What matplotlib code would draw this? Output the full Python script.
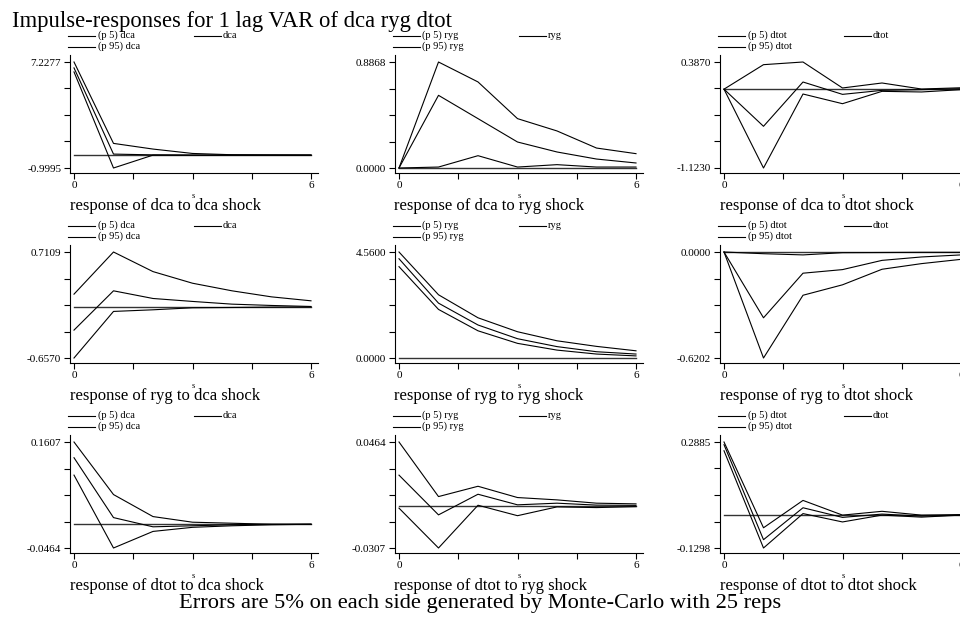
import numpy as np
import matplotlib
matplotlib.use("Agg")
import matplotlib.pyplot as plt

plt.rcParams['font.family'] = ['Liberation Serif', 'DejaVu Serif']

# horizon steps
steps = [0, 1, 2, 3, 4, 5, 6]
variables = ["dca", "ryg", "dtot"]

# response of dca to dca shock
dca_dca_p5 = [7.2277, 0.91, 0.47, 0.13, 0.03, 0.01, 0.0]
dca_dca_irf = [6.77, 0.08, 0.02, 0.005, 0.0, 0.0, 0.0]
dca_dca_p95 = [6.46, -0.9995, 0.0, -0.01, 0.0, 0.0, 0.0]
# response of dca to ryg shock
dca_ryg_p5 = [0.0, 0.8868, 0.72, 0.413, 0.31, 0.167, 0.12]
dca_ryg_irf = [0.0, 0.608, 0.413, 0.2175, 0.134, 0.075, 0.042]
dca_ryg_p95 = [0.0, 0.008, 0.103, 0.008, 0.028, 0.008, 0.008]
# response of dca to dtot shock
dca_dtot_p5 = [0.0, 0.349, 0.387, 0.017, 0.088, 0.002, 0.02]
dca_dtot_irf = [0.0, -0.529, 0.102, -0.074, -0.017, -0.007, 0.007]
dca_dtot_p95 = [0.0, -1.123, -0.069, -0.207, -0.031, -0.04, -0.007]
# response of ryg to dca shock
ryg_dca_p5 = [0.167, 0.7109, 0.458, 0.308, 0.210, 0.132, 0.081]
ryg_dca_irf = [-0.297, 0.21, 0.111, 0.073, 0.038, 0.021, 0.008]
ryg_dca_p95 = [-0.657, -0.056, -0.035, -0.009, -0.005, 0.0, 0.002]
# response of ryg to ryg shock
ryg_ryg_p5 = [4.56, 2.72, 1.73, 1.13, 0.74, 0.50, 0.31]
ryg_ryg_irf = [4.27, 2.36, 1.42, 0.83, 0.49, 0.27, 0.17]
ryg_ryg_p95 = [3.93, 2.09, 1.17, 0.63, 0.34, 0.17, 0.09]
# response of ryg to dtot shock
ryg_dtot_p5 = [0.0, -0.01, -0.017, -0.004, -0.003, -0.002, -0.002]
ryg_dtot_irf = [0.0, -0.385, -0.124, -0.103, -0.049, -0.029, -0.017]
ryg_dtot_p95 = [0.0, -0.6202, -0.253, -0.192, -0.101, -0.068, -0.043]
# response of dtot to dca shock
dtot_dca_p5 = [0.1607, 0.058, 0.015, 0.004, 0.002, 0.0, 0.0]
dtot_dca_irf = [0.130, 0.013, -0.005, -0.003, -0.001, 0.0, 0.0]
dtot_dca_p95 = [0.096, -0.0464, -0.014, -0.006, -0.003, -0.001, 0.0]
# response of dtot to ryg shock
dtot_ryg_p5 = [0.0464, 0.0067, 0.0142, 0.0060, 0.0043, 0.0019, 0.0014]
dtot_ryg_irf = [0.0223, -0.0066, 0.0084, 0.0007, 0.0019, 0.0005, 0.0003]
dtot_ryg_p95 = [-0.0017, -0.0307, 0.0004, -0.0072, -0.0008, -0.0013, -0.0006]
# response of dtot to dtot shock
dtot_dtot_p5 = [0.2885, -0.05, 0.058, 0.0, 0.015, 0.0, 0.002]
dtot_dtot_irf = [0.278, -0.097, 0.029, -0.009, 0.004, -0.004, 0.0]
dtot_dtot_p95 = [0.254, -0.1298, 0.006, -0.027, 0.0, -0.008, 0.0]

panels = [
    [(dca_dca_p5, dca_dca_irf, dca_dca_p95),
     (dca_ryg_p5, dca_ryg_irf, dca_ryg_p95),
     (dca_dtot_p5, dca_dtot_irf, dca_dtot_p95)],
    [(ryg_dca_p5, ryg_dca_irf, ryg_dca_p95),
     (ryg_ryg_p5, ryg_ryg_irf, ryg_ryg_p95),
     (ryg_dtot_p5, ryg_dtot_irf, ryg_dtot_p95)],
    [(dtot_dca_p5, dtot_dca_irf, dtot_dca_p95),
     (dtot_ryg_p5, dtot_ryg_irf, dtot_ryg_p95),
     (dtot_dtot_p5, dtot_dtot_irf, dtot_dtot_p95)],
]

W, H = 960, 620
fig = plt.figure(figsize=(W / 100, H / 100), dpi=100)

# layout in pixels
col_left = [69.5, 394.5, 719.5]
ax_w = 248.5
row_bottom = [173, 363, 553]
ax_h = 118

for r in range(3):
    for c in range(3):
        ax = fig.add_axes([col_left[c] / W, (H - row_bottom[r]) / H, ax_w / W, ax_h / H])
        p5, irf, p95 = panels[r][c]
        zeros = np.zeros(len(steps))
        ax.plot(steps, zeros, color="#333333", lw=1.0)
        for s in (p5, irf, p95):
            ax.plot(steps, s, color="black", lw=0.8)

        allv = np.concatenate([p5, irf, p95, zeros])
        ymin, ymax = allv.min(), allv.max()
        rng = ymax - ymin
        ax.set_ylim(ymin - 5 / 106 * rng, ymax + 7 / 106 * rng)
        ax.set_xlim(-4.5 / 39.5, 6 + 7 / 39.5)

        yt = np.linspace(ymin, ymax, 5)
        ax.set_yticks(yt)
        ax.set_yticklabels(["%.4f" % ymin, "", "", "", "%.4f" % ymax])
        ax.set_xticks([0, 1.5, 3, 4.5, 6])
        ax.set_xticklabels(["0", "", "", "", "6"])
        ax.tick_params(direction="out", length=4, width=0.8, labelsize=8, pad=2)
        for side in ("top", "right"):
            ax.spines[side].set_visible(False)
        for side in ("left", "bottom"):
            ax.spines[side].set_linewidth(0.8)
        ax.set_xlabel("s", fontsize=6, labelpad=1)

        ax.text(0, -33 / ax_h, "response of %s to %s shock" % (variables[r], variables[c]),
                transform=ax.transAxes, fontsize=12, va="center", ha="left")

        # legend keys
        v = variables[c]
        entries = [(-1.5, 19.5, "(p 5) " + v), (124, 19.5, v), (-1.5, 8.5, "(p 95) " + v)]
        for x0, dy, lab in entries:
            yy = 1 + dy / ax_h
            ax.plot([x0 / ax_w, (x0 + 27) / ax_w], [yy, yy], color="black", lw=0.8,
                    transform=ax.transAxes, clip_on=False)
            ax.text((x0 + 29.5) / ax_w, yy, lab, transform=ax.transAxes,
                    fontsize=7.5, va="center", ha="left")

fig.text(12 / W, 1 - 26.5 / H, "Impulse-responses for 1 lag VAR of dca ryg dtot",
         fontsize=16.3, ha="left", va="baseline")
fig.text(480 / W, 1 - 608 / H, "Errors are 5% on each side generated by Monte-Carlo with 25 reps",
         fontsize=16.2, ha="center", va="baseline")

fig.savefig("out.png", dpi=100)
